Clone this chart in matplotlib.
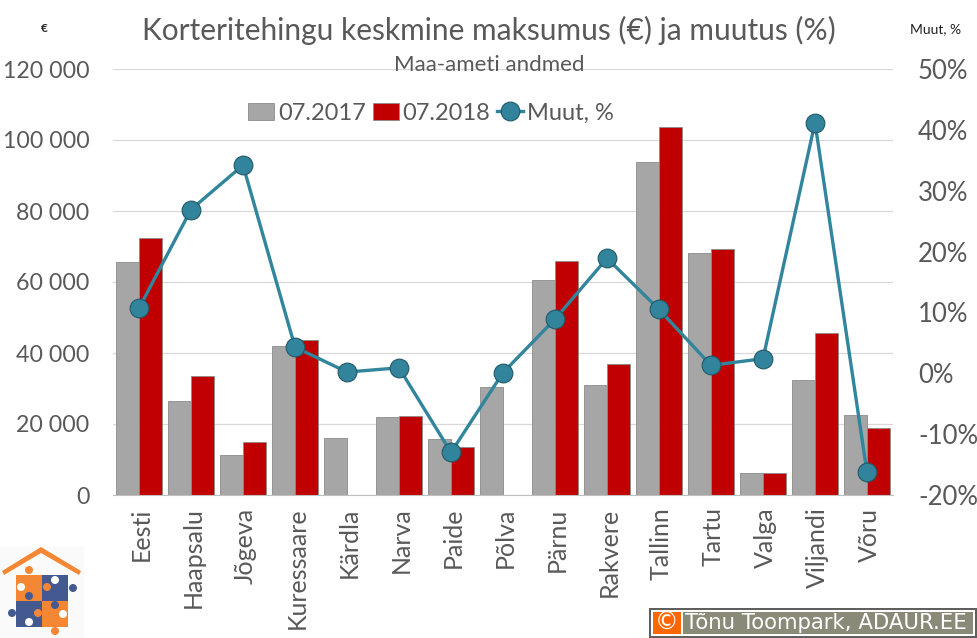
import matplotlib
matplotlib.use("Agg")
import matplotlib.pyplot as plt
from matplotlib.patches import Rectangle, Circle, Polygon
from matplotlib.transforms import ScaledTranslation
import numpy as np

categories = ["Eesti","Haapsalu","Jõgeva","Kuressaare","Kärdla","Narva","Paide","Põlva","Pärnu","Rakvere","Tallinn","Tartu","Valga","Viljandi","Võru"]
v2017 = [65500,26500,11200,42000,16000,22000,15700,30500,60500,31000,93700,68200,6200,32500,22500]
v2018 = [72300,33500,15000,43700,0,22300,13500,0,65800,36800,103700,69300,6200,45700,18900]
muut = [10.7,26.9,34.2,4.3,0.2,0.9,-13.0,0.1,8.9,18.9,10.5,1.3,2.4,41.2,-16.3]
left_ticks = [0,20000,40000,60000,80000,100000,120000]
right_ticks = [-20,-10,0,10,20,30,40,50]

W, H = 977, 638
plt.rcParams['font.family'] = ['Lato', 'DejaVu Sans']
TXT = '#595959'
fig = plt.figure(figsize=(W/100, H/100), dpi=100, facecolor='white')
ax = fig.add_axes([113/W, 1-495/H, 780/W, 426/H])
x = np.arange(len(categories))
ax.set_axisbelow(True)
ax.grid(axis='y', color='#D9D9D9', lw=0.9)
ax.bar(x-0.225, v2017, 0.44, color='#A6A6A6', edgecolor='#8C8C8C', lw=0.6, label='07.2017')
ax.bar(x+0.225, v2018, 0.45, color='#C00000', edgecolor='#8C8C8C', lw=0.6, label='07.2018')
ax.set_xlim(-0.5, len(categories)-0.5)
ax.set_ylim(0, 120000)
ax.set_yticks(left_ticks)
ax.set_yticklabels([f"{t:,}".replace(",", " ") for t in left_ticks], fontsize=16.7, color=TXT)
ax.set_xticks(x)
ax.set_xticklabels(categories, rotation=90, fontsize=18, color=TXT)
ax.tick_params(length=0, axis='y', pad=17)
ax.tick_params(length=0, axis='x', pad=9)
for lab in ax.get_xticklabels():
    lab.set_transform(lab.get_transform() + ScaledTranslation(2/100, 0, fig.dpi_scale_trans))
for s in ['top','left','right']:
    ax.spines[s].set_visible(False)
ax.spines['bottom'].set_color('#BFBFBF')

ax2 = ax.twinx()
ln, = ax2.plot(x, muut, color='#31859C', lw=2.4, marker='o', ms=13.5, mfc='#31849B', mec='#215968', mew=0.8, label='Muut, %')
ax2.set_ylim(-20, 50)
ax2.set_yticks(right_ticks)
ax2.set_yticklabels([f"{t}%" for t in right_ticks], fontsize=18.5, color=TXT)
ax2.tick_params(length=0, pad=18)
for s in ax2.spines.values():
    s.set_visible(False)

h = ax.get_legend_handles_labels()[0] + [ln]
leg = fig.legend(h, ['07.2017','07.2018','Muut, %'], ncol=3, frameon=False, fontsize=17,
                 labelcolor=TXT, loc='center', bbox_to_anchor=(431/W, 1-113/H),
                 handlelength=1.1, handleheight=0.7, handletextpad=0.15, columnspacing=0.3)

fig.text(489/W, 1-30/H, "Korteritehingu keskmine maksumus (€) ja muutus (%)", fontsize=21.5, color=TXT, ha='center', va='center')
fig.text(489/W, 1-65/H, "Maa-ameti andmed", fontsize=16, color=TXT, ha='center', va='center')
fig.text(44/W, 1-29/H, "€", fontsize=8.5, color='#222222', ha='center', va='center', fontweight='bold')
fig.text(936/W, 1-29/H, "Muut, %", fontsize=10, color='#222222', ha='center', va='center')

# overlay in pixel coordinates (image y downward)
ov = fig.add_axes([0,0,1,1], facecolor='none')
ov.set_xlim(0,W); ov.set_ylim(H,0); ov.axis('off')
O, B = '#F58634', '#44598F'
ov.add_patch(Rectangle((0,547),84,91,color='#FAFAFA',lw=0))
ov.add_patch(Polygon([[2,571],[41,547],[81,571],[79,575],[41,553],[4,575]],color=O,lw=0))
ov.add_patch(Rectangle((16,575),26,26,color=O,lw=0))
ov.add_patch(Rectangle((42,575),26,26,color=B,lw=0))
ov.add_patch(Rectangle((16,601),26,26,color=B,lw=0))
ov.add_patch(Rectangle((42,601),26,26,color=O,lw=0))
for cx,cy,c in [(29,570,O),(55,580,'white'),(47,587,O),(73,588,B),(21,587,'white'),(29,596,B),(12,613,B),(29,622,'white'),(38,613,O),(55,605,B),(63,614,'white'),(55,631,O)]:
    ov.add_patch(Circle((cx,cy),4,color=c,lw=0))

# credit box
ov.add_patch(Rectangle((649,608),328,30,color='#5F5F5F',lw=0))
ov.add_patch(Rectangle((651,610),324,26,color='white',lw=0))
ov.add_patch(Rectangle((653,612),28,22,color='#FF6600',lw=0))
ov.add_patch(Rectangle((683,612),290,22,color='#8A8A78',lw=0))
ov.text(667,623,"©",fontsize=17,color='white',ha='center',va='center',family='DejaVu Sans')
ov.text(685,623,"Tõnu Toompark, ADAUR.EE",fontsize=15.3,color='white',ha='left',va='center',family='DejaVu Sans')

fig.savefig('out.png', dpi=100)
